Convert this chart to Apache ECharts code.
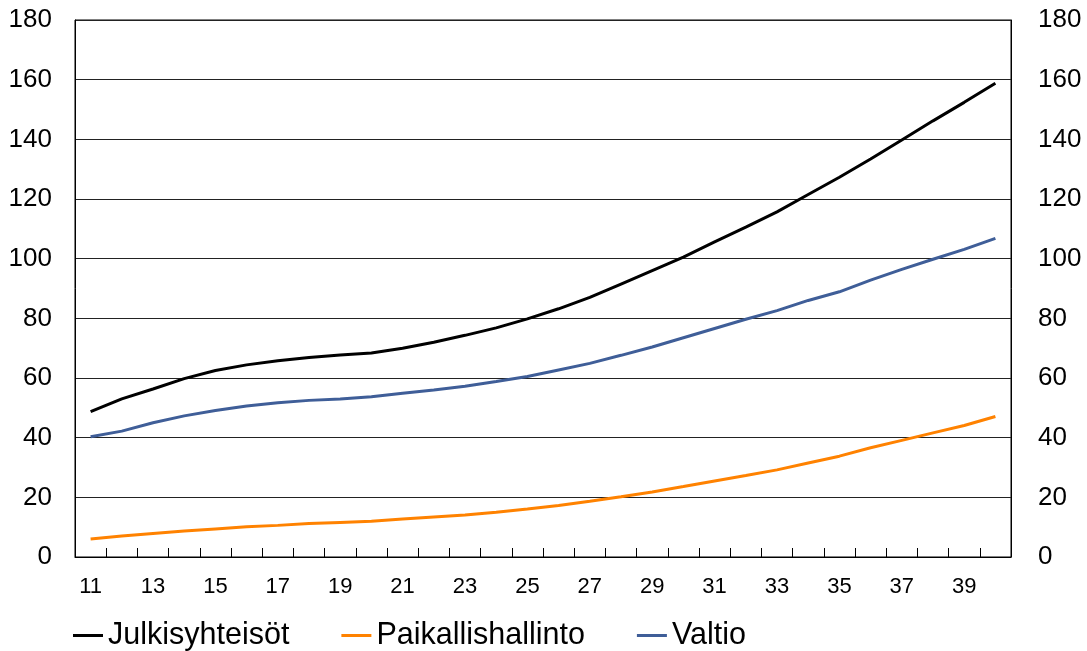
<!DOCTYPE html>
<html>
<head>
<meta charset="utf-8">
<script src="https://cdn.jsdelivr.net/npm/echarts@6/dist/echarts.min.js"></script>
<style>
html,body{margin:0;padding:0;background:#fff;}
#chart{width:1087px;height:651px;}
</style>
</head>
<body>
<div id="chart"></div>
<script>
const categories = ['11','12','13','14','15','16','17','18','19','20','21','22','23','24','25','26','27','28','29','30','31','32','33','34','35','36','37','38','39','40'];
const seriesNames = ['Julkisyhteisöt','Paikallishallinto','Valtio'];
const julkisyhteisot = [48.7,53.0,56.3,59.8,62.5,64.4,65.8,66.9,67.7,68.4,70.0,72.0,74.3,76.8,79.8,83.2,87.0,91.5,96.0,100.5,105.6,110.6,115.7,121.5,127.3,133.4,139.8,146.2,152.4,158.8];
const paikallishallinto = [6.0,7.0,7.9,8.7,9.4,10.1,10.6,11.2,11.6,12.0,12.7,13.4,14.1,15.0,16.1,17.3,18.7,20.2,21.8,23.6,25.5,27.3,29.2,31.5,33.8,36.6,39.1,41.6,44.1,47.1];
const valtio = [40.3,42.2,45.0,47.3,49.1,50.6,51.7,52.5,53.0,53.7,54.9,56.0,57.2,58.8,60.5,62.7,64.9,67.6,70.4,73.5,76.6,79.7,82.6,86.0,88.9,92.8,96.4,99.8,103.1,106.8];
const yMin = 0, yMax = 180, yStep = 20;

const font = "'Liberation Sans', Arial, sans-serif";
const chart = echarts.init(document.getElementById('chart'), null, {renderer:'canvas'});
const yAxisBase = {
  type:'value', min:yMin, max:yMax, interval:yStep,
  axisLine:{show:true, lineStyle:{color:'#000', width:1}},
  axisTick:{show:false},
  axisLabel:{color:'#000', fontSize:26, fontFamily:font}
};
chart.setOption({
  animation:false,
  backgroundColor:'#fff',
  grid:{left:75, right:76, top:20, bottom:94, show:true, borderColor:'#000', borderWidth:1, containLabel:false},
  legend:{
    left:73, top:620, padding:0, itemGap:52, itemWidth:30, itemHeight:3, icon:'rect',
    textStyle:{fontSize:30.5, color:'#000', fontFamily:font},
    data:seriesNames
  },
  xAxis:{
    type:'category', data:categories, boundaryGap:true,
    axisLine:{show:true, lineStyle:{color:'#000', width:1}},
    axisTick:{show:true, inside:true, length:9, interval:0, alignWithLabel:false, lineStyle:{color:'#000'}},
    axisLabel:{interval:1, color:'#000', fontSize:22, fontFamily:font, margin:19},
    splitLine:{show:false}
  },
  yAxis:[
    Object.assign({}, yAxisBase, {position:'left', axisLabel:Object.assign({}, yAxisBase.axisLabel, {margin:23}),
      splitLine:{show:true, lineStyle:{color:'#222', width:1}}}),
    Object.assign({}, yAxisBase, {position:'right', axisLabel:Object.assign({}, yAxisBase.axisLabel, {margin:27}),
      splitLine:{show:false}})
  ],
  series:[
    {name:seriesNames[0], type:'line', data:julkisyhteisot, symbol:'none', color:'#000000', lineStyle:{width:3, color:'#000000'}},
    {name:seriesNames[1], type:'line', data:paikallishallinto, symbol:'none', color:'#FF8200', lineStyle:{width:3, color:'#FF8200'}},
    {name:seriesNames[2], type:'line', data:valtio, symbol:'none', color:'#3F5E98', lineStyle:{width:3, color:'#3F5E98'}}
  ]
});
</script>
</body>
</html>
